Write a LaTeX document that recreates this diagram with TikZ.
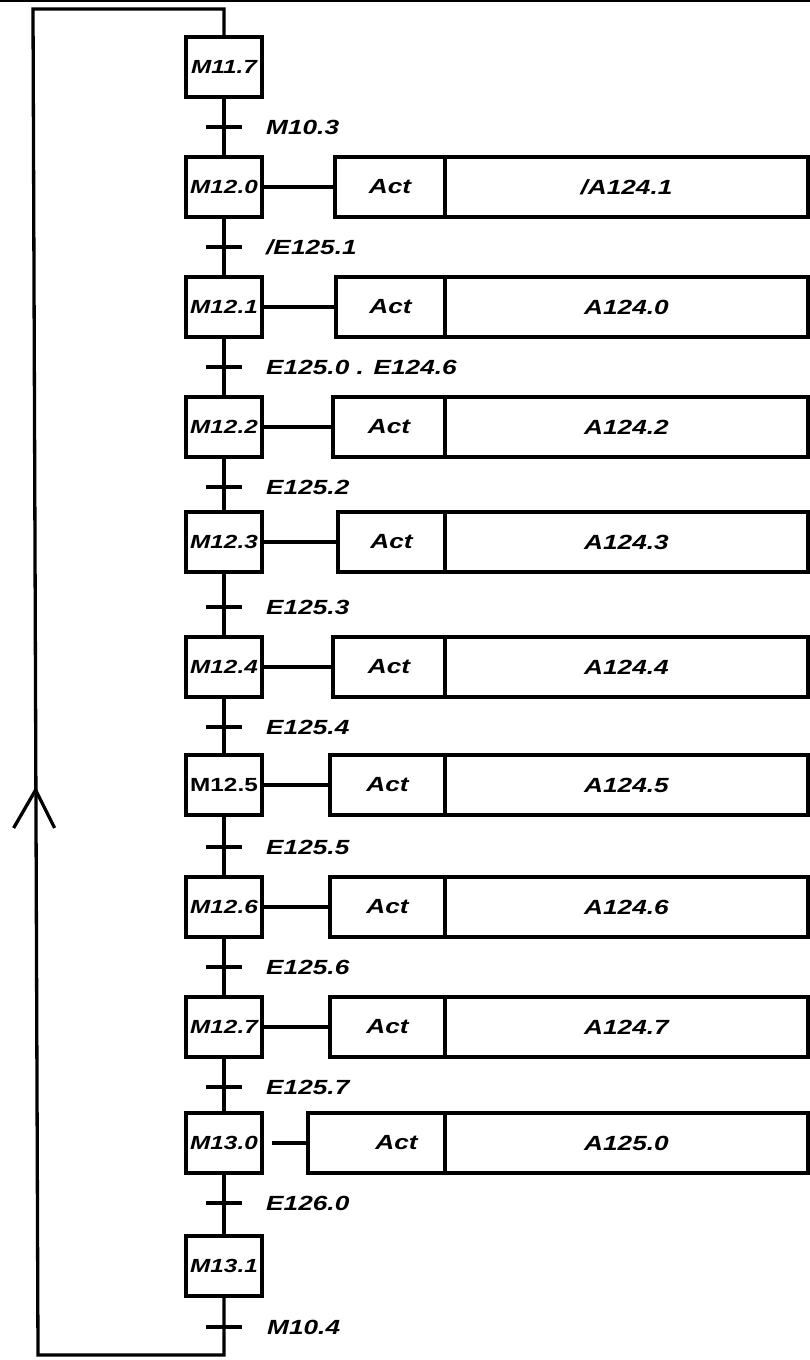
\documentclass[tikz,border=0pt]{standalone}
\usepackage{fontspec}
\setmainfont{Liberation Sans}[FakeStretch=1.28]
\usetikzlibrary{positioning}
\newcommand{\stepfont}{\fontsize{19}{21}\selectfont\bfseries\itshape}
\newcommand{\cellfont}{\fontsize{20.5}{22}\selectfont\bfseries\itshape}
\tikzset{
  wire/.style    ={line width=3.3pt},
  stepbox/.style ={draw, wire, minimum width=76pt, minimum height=60pt,
                   inner sep=0pt, font=\stepfont},
  actcell/.style ={draw, wire, minimum height=60pt, inner sep=0pt,
                   outer sep=0pt, anchor=east, font=\cellfont},
  outcell/.style ={actcell, anchor=west, minimum width=363pt},
  trans/.style   ={anchor=west, inner sep=0pt, font=\cellfont},
}

\begin{document}
\begin{tikzpicture}[x=1pt, y=-1pt]
  \useasboundingbox (0,0) rectangle (810,1360);

  % ---------------- top rule ----------------
  \coordinate (ruleL) at (0,1);
  \coordinate (ruleR) at (810,1);
  \draw[line width=2.5pt] (ruleL) -- (ruleR);

  % ---------------- steps ----------------
  \node[stepbox] (s117) at (224,67)   {M11.7};
  \node[stepbox] (s120) at (224,187)  {M12.0};
  \node[stepbox] (s121) at (224,307)  {M12.1};
  \node[stepbox] (s122) at (224,427)  {M12.2};
  \node[stepbox] (s123) at (224,542)  {M12.3};
  \node[stepbox] (s124) at (224,667)  {M12.4};
  \node[stepbox, font=\fontsize{19}{21}\selectfont\bfseries] (s125) at (224,785) {M12.5};
  \node[stepbox] (s126) at (224,907)  {M12.6};
  \node[stepbox] (s127) at (224,1027) {M12.7};
  \node[stepbox] (s130) at (224,1143) {M13.0};
  \node[stepbox] (s131) at (224,1266) {M13.1};

  % ---------------- actions ----------------
  \node[actcell, minimum width=110pt] (act120) at (445,187)  {Act};
  \node[outcell] (out120) at (act120.east) {/A124.1};
  \node[actcell, minimum width=109pt] (act121) at (445,307)  {Act};
  \node[outcell] (out121) at (act121.east) {A124.0};
  \node[actcell, minimum width=112pt] (act122) at (445,427)  {Act};
  \node[outcell] (out122) at (act122.east) {A124.2};
  \node[actcell, minimum width=107pt] (act123) at (445,542)  {Act};
  \node[outcell] (out123) at (act123.east) {A124.3};
  \node[actcell, minimum width=112pt] (act124) at (445,667)  {Act};
  \node[outcell] (out124) at (act124.east) {A124.4};
  \node[actcell, minimum width=115pt] (act125) at (445,785)  {Act};
  \node[outcell] (out125) at (act125.east) {A124.5};
  \node[actcell, minimum width=115pt] (act126) at (445,907)  {Act};
  \node[outcell] (out126) at (act126.east) {A124.6};
  \node[actcell, minimum width=115pt] (act127) at (445,1027) {Act};
  \node[outcell] (out127) at (act127.east) {A124.7};
  \node[actcell, minimum width=137pt] (act130) at (445,1143) {\hspace*{40pt}Act};
  \node[outcell] (out130) at (act130.east) {A125.0};

  % step -> action links
  \foreach \s in {120,121,122,123,124,125,126,127}
    \draw[wire] (s\s) -- (act\s);
  \draw[wire] ([xshift=8pt]s130.east) -- (act130);

  % ---------------- transitions ----------------
  \foreach \a/\b/\ty/\lab in {s117/s120/127/M10.3, s120/s121/247/{/E125.1},
      s121/s122/367/E125.0 . E124.6, s122/s123/487/E125.2, s123/s124/607/E125.3,
      s124/s125/727/E125.4, s125/s126/847/E125.5, s126/s127/967/E125.6,
      s127/s130/1087/E125.7, s130/s131/1203/E126.0} {
    \draw[wire] (\a) -- (\b);
    \coordinate (t-\b) at (224,\ty);
    \draw[wire] ([xshift=-18pt]t-\b) -- ([xshift=18pt]t-\b);
    \node[trans] (l-\b) at ([xshift=42pt]t-\b) {\lab};
  }

  % ---------------- loop back ----------------
  \coordinate (loopTL) at (33,9);
  \coordinate (loopBL) at (38,1355);
  \coordinate (t-back) at (224,1327);
  \draw[wire] (s117.north) |- (loopTL) -- (loopBL) -| (s131.south);
  \draw[wire] ([xshift=-18pt]t-back) -- ([xshift=18pt]t-back);
  \node[trans] (l-back) at ([xshift=43pt]t-back) {M10.4};

  \coordinate (loopArrow) at (35.6,790);
  \draw[wire] ([shift={(-22,38)}]loopArrow) -- (loopArrow) -- ([shift={(19,38)}]loopArrow);
\end{tikzpicture}
\end{document}
